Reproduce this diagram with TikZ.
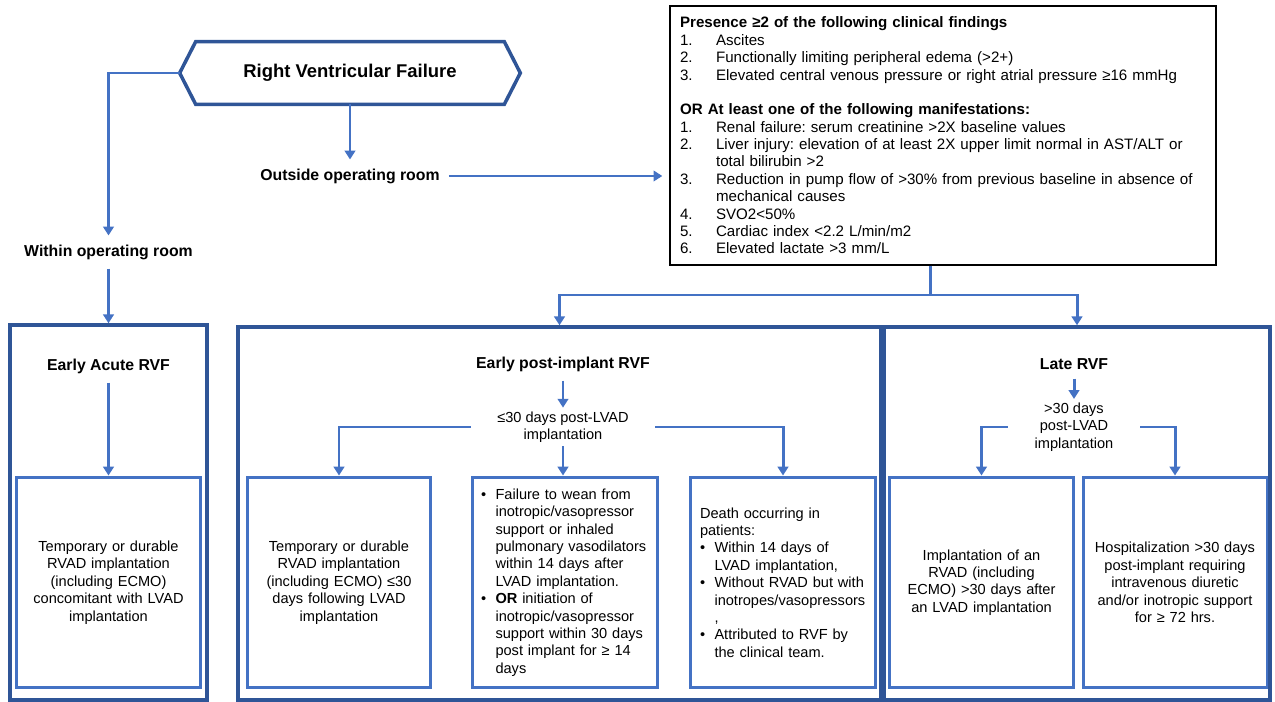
\documentclass[tikz,border=0pt]{standalone}
\usepackage{fontspec}
\setmainfont{Liberation Sans}
\usepackage{tikz}
\usetikzlibrary{arrows.meta,calc,positioning}

\definecolor{lineblue}{HTML}{4472C4}
\definecolor{boxblue}{HTML}{2F5597}

\newcommand{\bul}{\makebox[0.29cm][l]{\textbullet}}
\newcommand{\bulind}{\hspace*{0.29cm}}
\newcommand{\critem}[1]{\makebox[0.72cm][l]{#1}}
\newcommand{\critind}{\hspace*{0.72cm}}
\frenchspacing

\begin{document}
\begin{tikzpicture}[
    x=0.02cm, y=-0.02cm,
    conn/.style={draw=lineblue, line width=1.7pt},
    arr/.style={conn, -{Triangle[length=5pt,width=6pt]}},
    head/.style={font=\fontsize{9}{11}\selectfont\bfseries, inner sep=5pt},
    sub/.style={font=\fontsize{8.3}{9.9}\selectfont, align=center, inner xsep=15pt, inner ysep=2pt},
    outer/.style={draw=boxblue, line width=2pt, minimum height=7.46cm},
    inner/.style={draw=lineblue, line width=1.7pt, minimum height=4.22cm, inner xsep=0.2cm,
        font=\fontsize{8.3}{9.9}\selectfont, align=center},
    crit/.style={draw=black, line width=0.8pt, minimum height=5.18cm, inner xsep=0.2cm,
        text width=10.52cm, align=left, font=\fontsize{8.6}{9.9}\selectfont}
]
\useasboundingbox (0,0) rectangle (1275,702);

% top
\node[head, font=\fontsize{10.5}{12}\selectfont\bfseries, minimum width=6.16cm, minimum height=1.24cm] (rvf) at (350,73) {Right Ventricular Failure};
\coordinate (rvfL) at ($(rvf.west)+(-16,0)$);
\coordinate (rvfR) at ($(rvf.east)+(16,0)$);
\draw[draw=boxblue, line width=2pt] (rvf.north west) -- (rvf.north east) -- (rvfR) -- (rvf.south east) -- (rvf.south west) -- (rvfL) -- cycle;

\node[head] (within) at (108.5,252) {Within operating room};
\node[head] (outside) at (350,176) {Outside operating room};

% criteria
\node[crit] (crit) at (943,135.5) {%
\textbf{Presence ≥2 of the following clinical findings}\\
\critem{1.}Ascites\\
\critem{2.}Functionally limiting peripheral edema (>2+)\\
\critem{3.}Elevated central venous pressure or right atrial pressure ≥16 mmHg\\[9.9pt]
\textbf{OR At least one of the following manifestations:}\\
\critem{1.}Renal failure: serum creatinine >2X baseline values\\
\critem{2.}Liver injury: elevation of at least 2X upper limit normal in AST/ALT or\\
\critind total bilirubin >2\\
\critem{3.}Reduction in pump flow of >30\% from previous baseline in absence of\\
\critind mechanical causes\\
\critem{4.}SVO2<50\%\\
\critem{5.}Cardiac index <2.2 L/min/m2\\
\critem{6.}Elevated lactate >3 mm/L};

% categories
\node[outer, minimum width=3.94cm, minimum height=7.5cm] (acute) at (108.5,512.5) {};
\node[outer, minimum width=12.86cm] (post) at (559.5,513.5) {};
\node[outer, minimum width=7.72cm] (late) at (1077,513.5) {};

\node[head] (acuteT) at (108.5,366) {Early Acute RVF};
\node[head] (postT) at (563,364) {Early post-implant RVF};
\node[head] (lateT) at (1074,364) {Late RVF};

\node[sub] (postD) at (563,427) {≤30 days post-LVAD\\implantation};
\node[sub] (lateD) at (1074,427) {>30 days\\post-LVAD\\implantation};

% definitions
\node[inner, minimum width=3.68cm, text width=3.28cm] (acuteA) at (108.5,582.5)
    {Temporary or durable\\RVAD implantation\\(including ECMO)\\concomitant with LVAD\\implantation};
\node[inner, minimum width=3.68cm, text width=3.28cm] (postA) at (339,582.5)
    {Temporary or durable\\RVAD implantation\\(including ECMO) ≤30\\days following LVAD\\implantation};
\node[inner, inner xsep=0.18cm, text width=3.36cm, align=left] (postB) at (565,582.5)
    {\bul Failure to wean from\\\bulind inotropic/vasopressor\\\bulind support or inhaled\\\bulind pulmonary vasodilators\\\bulind within 14 days after\\\bulind LVAD implantation.\\
     \bul\textbf{OR} initiation of\\\bulind inotropic/vasopressor\\\bulind support within 30 days\\\bulind post implant for ≥ 14\\\bulind days};
\node[inner, text width=3.32cm, align=left] (postC) at (783,582.5)
    {Death occurring in\\patients:\\\bul Within 14 days of\\\bulind LVAD implantation,\\\bul Without RVAD but with\\\bulind inotropes/vasopressors\\\bulind ,\\\bul Attributed to RVF by\\\bulind the clinical team.};
\node[inner, minimum width=3.7cm, text width=3.3cm] (lateA) at (981.5,582.5)
    {Implantation of an\\RVAD (including\\ECMO) >30 days after\\an LVAD implantation};
\node[inner, minimum width=3.68cm, text width=3.28cm] (lateB) at (1175,582.5)
    {Hospitalization >30 days\\post-implant requiring\\intravenous diuretic\\and/or inotropic support\\for ≥ 72 hrs.};

% connectors
\draw[arr] (rvf.south) -- (outside.north);
\draw[arr] (rvfL) -| (within.north);
\draw[arr] (within.south) -- (acute.north);
\draw[arr, shorten >=4pt] (outside.east) -- (outside.east -| crit.west);
\coordinate (split) at (930,295);
\draw[conn] (crit.south -| split) -- (split);
\draw[arr] (split) -| (post.north);
\draw[arr] (split) -| (late.north);

\draw[arr] (acuteT.south) -- (acuteA.north);
\draw[arr] (postT.south) -- (postD.north);
\draw[arr] (postD.south) -- (postD.south |- postB.north);
\draw[arr] (postD.west) -| (postA.north);
\draw[arr] (postD.east) -| (postC.north);
\draw[arr] (lateT.south) -- (lateD.north);
\draw[arr] (lateD.west) -| (lateA.north);
\draw[arr] (lateD.east) -| (lateB.north);
\end{tikzpicture}
\end{document}
